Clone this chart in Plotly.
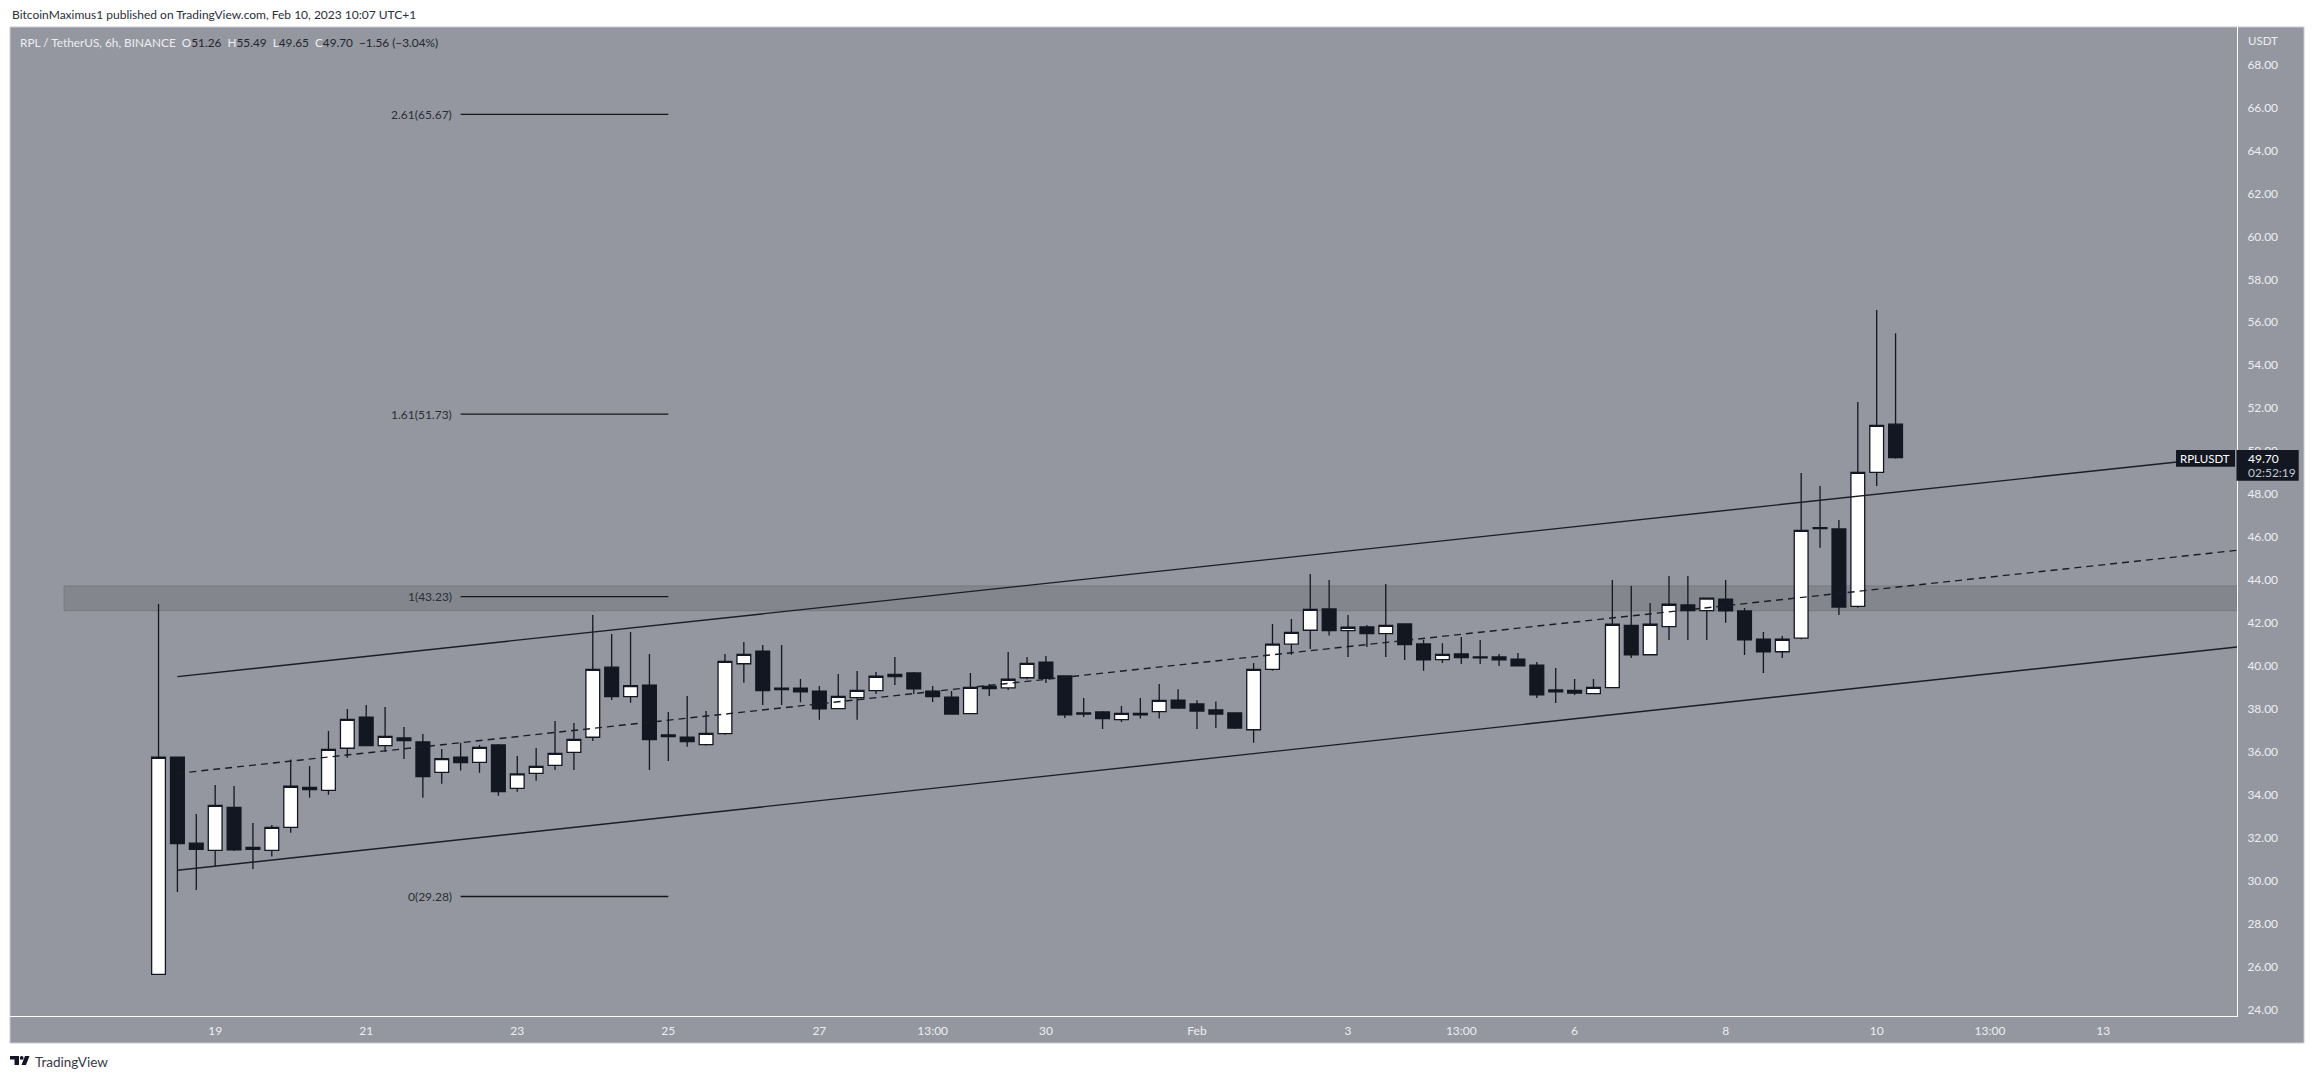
import pandas as pd
import plotly.graph_objects as go

# 6h RPL/USDT candles
bar_start = "2023-01-18 07:00"
opens = [25.66, 35.76, 31.76, 31.43, 33.43, 31.57, 31.43, 32.50, 34.36, 34.22,
         36.18, 37.63, 36.30, 36.66, 36.47, 35.06, 35.76, 35.52, 36.33, 34.31,
         35.01, 35.38, 35.99, 36.69, 39.95, 38.58, 39.12, 36.80, 36.69, 36.35,
         36.86, 40.11, 40.70, 38.98, 38.98, 38.84, 38.02, 38.53, 38.86, 39.51,
         39.68, 38.84, 38.56, 37.79, 38.95, 38.99, 39.46, 40.19, 39.54, 37.82,
         37.87, 37.51, 37.80, 37.88, 38.42, 38.24, 37.96, 37.82, 37.04, 39.85,
         41.02, 41.67, 42.66, 41.65, 41.82, 41.51, 41.96, 41.03, 40.30, 40.57,
         40.43, 40.43, 40.33, 40.05, 38.89, 38.87, 38.72, 39.00, 41.90, 40.53,
         41.84, 42.85, 42.58, 43.12, 42.57, 41.25, 40.67, 41.30, 46.44, 46.38,
         42.78, 49.02, 51.26]
highs = [42.89, 35.76, 33.12, 34.47, 34.42, 32.70, 32.61, 35.66, 35.35, 36.98,
         38.01, 38.19, 38.10, 37.17, 36.84, 36.14, 36.44, 36.33, 36.38, 35.82,
         36.19, 37.45, 37.35, 42.38, 41.50, 41.59, 40.57, 37.87, 38.61, 37.91,
         40.57, 41.12, 40.98, 40.98, 39.40, 39.08, 39.63, 39.77, 39.73, 40.43,
         39.73, 39.08, 38.84, 39.68, 39.17, 40.66, 40.43, 40.47, 39.54, 38.52,
         37.91, 38.15, 38.52, 39.17, 38.92, 38.41, 38.36, 37.82, 40.15, 41.96,
         42.19, 44.29, 44.01, 42.38, 41.91, 43.82, 41.96, 41.23, 41.07, 41.36,
         41.22, 40.57, 40.61, 40.19, 39.91, 39.40, 39.40, 44.01, 43.73, 42.94,
         44.19, 44.19, 43.16, 44.01, 42.71, 41.59, 41.40, 48.99, 48.38, 46.80,
         52.29, 56.57, 55.49]
lows = [25.66, 29.49, 29.58, 30.70, 31.40, 30.56, 31.14, 32.25, 33.87, 34.02,
        35.74, 36.30, 36.02, 35.68, 33.87, 34.53, 35.14, 35.04, 33.97, 34.16,
        34.67, 35.17, 35.17, 36.52, 38.42, 38.30, 35.17, 35.59, 36.25, 36.30,
        36.81, 39.23, 38.19, 38.19, 38.32, 37.51, 38.02, 37.51, 38.70, 39.12,
        38.70, 38.33, 37.77, 37.79, 38.61, 38.89, 39.39, 39.22, 37.59, 37.63,
        37.07, 37.40, 37.56, 37.56, 38.01, 37.07, 37.12, 37.07, 36.44, 39.79,
        40.53, 40.80, 41.42, 40.43, 40.89, 40.43, 40.29, 39.79, 40.15, 40.10,
        40.10, 40.01, 40.01, 38.52, 38.29, 38.66, 38.72, 39.00, 40.38, 40.53,
        41.22, 41.22, 41.22, 42.02, 40.52, 39.68, 40.38, 41.25, 45.51, 42.38,
        42.72, 48.38, 49.65]
closes = [35.76, 31.74, 31.47, 33.52, 31.45, 31.47, 32.50, 34.41, 34.25, 36.13,
          37.52, 36.30, 36.73, 36.53, 34.86, 35.70, 35.51, 36.22, 34.16, 34.99,
          35.34, 35.94, 36.59, 39.85, 38.58, 39.09, 36.58, 36.72, 36.49, 36.87,
          40.22, 40.55, 38.86, 38.91, 38.80, 38.01, 38.59, 38.87, 39.53, 39.62,
          38.94, 38.58, 37.77, 39.01, 39.06, 39.39, 40.13, 39.43, 37.73, 37.77,
          37.56, 37.80, 37.73, 38.41, 38.05, 37.91, 37.77, 37.12, 39.85, 41.02,
          41.57, 42.64, 41.65, 41.81, 41.51, 41.90, 41.00, 40.29, 40.55, 40.40,
          40.38, 40.29, 40.01, 38.66, 38.80, 38.75, 39.01, 41.95, 40.52, 41.95,
          42.88, 42.58, 43.16, 42.57, 41.22, 40.66, 41.25, 46.32, 46.40, 42.75,
          49.02, 51.20, 49.70]

x_tick_times = ["2023-01-19 01:00", "2023-01-21 01:00", "2023-01-23 01:00", "2023-01-25 01:00",
                "2023-01-27 01:00", "2023-01-28 13:00", "2023-01-30 01:00", "2023-02-01 01:00",
                "2023-02-03 01:00", "2023-02-04 13:00", "2023-02-06 01:00", "2023-02-08 01:00",
                "2023-02-10 01:00", "2023-02-11 13:00", "2023-02-13 01:00"]
x_tick_labels = ["19", "21", "23", "25", "27", "13:00", "30", "Feb", "3", "13:00", "6", "8", "10",
                 "13:00", "13"]
y_ticks = list(range(24, 70, 2))

# drawings on the chart
x_view = ["2023-01-16 07:48", "2023-02-14 19:30"]
upper_x = ["2023-01-18 13:00", "2023-02-14 00:30"]
upper_y = [39.51, 49.50]
middle_x = ["2023-01-18 13:00", "2023-02-14 19:30"]
middle_y = [35.01, 45.39]
lower_x = ["2023-01-18 13:00", "2023-02-14 19:30"]
lower_y = [30.50, 40.89]
fib_x = ["2023-01-22 07:00", "2023-01-25 01:00"]
fib_label_x = "2023-01-22 05:00"
fib_ratios = ["2.61", "1.61", "1", "0"]
fib_prices = [65.67, 51.73, 43.23, 29.28]
band_x0 = "2023-01-17 01:00"
band_prices = [42.58, 43.73]

BG = "#94979f"
INK = "#131722"
LABEL = "#eceef2"
FONT = "Lato"

# the page keeps the browser's 8px body margin, so page positions are shifted by it
PAGE = 8
W, H = 2314 - 2 * PAGE, 1079 - 2 * PAGE
L, R, T, B = 10 - PAGE, 2237 - PAGE, 27 - PAGE, 1016 - PAGE


def px_x(x):
    return (x - PAGE - L) / (R - L)


def px_y(y):
    return (B - (y - PAGE)) / (B - T)


def poly(points):
    return "M" + " L".join(f"{px_x(a):.5f},{px_y(b):.5f}" for a, b in points) + " Z"


dates = pd.date_range(bar_start, periods=len(opens), freq="6h")

fig = go.Figure()

for xs, ys, dash in [(upper_x, upper_y, "solid"), (middle_x, middle_y, "7px,5px"), (lower_x, lower_y, "solid")]:
    fig.add_trace(go.Scatter(x=xs, y=ys, mode="lines", line=dict(color="#1a1d26", width=1.4, dash=dash),
                             showlegend=False, hoverinfo="skip"))

for price in fib_prices:
    fig.add_trace(go.Scatter(x=fib_x, y=[price, price], mode="lines", line=dict(color="#15171d", width=1.3),
                             showlegend=False, hoverinfo="skip"))

fig.add_trace(go.Candlestick(
    x=dates, open=opens, high=highs, low=lows, close=closes,
    increasing=dict(line=dict(color=INK, width=1.3), fillcolor="#ffffff"),
    decreasing=dict(line=dict(color=INK, width=1.3), fillcolor=INK),
    whiskerwidth=0, showlegend=False,
))

shapes = [
    # panel behind plot and both axis strips
    dict(type="rect", xref="paper", yref="paper", layer="below",
         x0=0, x1=px_x(2304), y0=px_y(1043), y1=1,
         fillcolor=BG, line=dict(color="#c8cacf", width=1)),
    dict(type="rect", xref="x", yref="y", layer="below",
         x0=band_x0, x1=x_view[1], y0=band_prices[0], y1=band_prices[1],
         fillcolor="#84868e", line=dict(color="#777a82", width=1)),
    # price tags on the right
    dict(type="rect", xref="paper", yref="paper", fillcolor=INK, line=dict(width=0),
         x0=px_x(2176), x1=px_x(2235), y0=px_y(466.7), y1=px_y(450)),
    dict(type="rect", xref="paper", yref="paper", fillcolor=INK, line=dict(width=0),
         x0=px_x(2236.5), x1=px_x(2298.7), y0=px_y(480.7), y1=px_y(450)),
    # TradingView logo
    dict(type="path", xref="paper", yref="paper", fillcolor=INK, line=dict(width=0),
         path=poly([(10, 1056), (19, 1056), (19, 1065), (14.5, 1065), (14.5, 1059.5), (10, 1059.5)])),
    dict(type="circle", xref="paper", yref="paper", fillcolor=INK, line=dict(width=0),
         x0=px_x(19.8), x1=px_x(23.6), y0=px_y(1059.8), y1=px_y(1056)),
    dict(type="path", xref="paper", yref="paper", fillcolor=INK, line=dict(width=0),
         path=poly([(25, 1056), (29.5, 1056), (26, 1065), (21.5, 1065)])),
]

annotations = [
    dict(xref="paper", yref="paper", x=px_x(10), y=px_y(15), xanchor="left", yanchor="middle", showarrow=False,
         text="BitcoinMaximus1 published on TradingView.com, Feb 10, 2023 10:07 UTC+1",
         font=dict(family=FONT, size=12, color="#2a2e39")),
    dict(xref="paper", yref="paper", x=px_x(18), y=px_y(42), xanchor="left", yanchor="middle", showarrow=False,
         text=f"<span style='color:{LABEL}'>RPL / TetherUS, 6h, BINANCE\u00a0\u00a0O</span>51.26"
              f"\u00a0\u00a0<span style='color:{LABEL}'>H</span>55.49"
              f"\u00a0\u00a0<span style='color:{LABEL}'>L</span>49.65"
              f"\u00a0\u00a0<span style='color:{LABEL}'>C</span>49.70\u00a0\u00a0−1.56 (−3.04%)",
         font=dict(family=FONT, size=11.8, color="#23262e")),
    dict(xref="paper", yref="paper", x=px_x(2246), y=px_y(40.7), xanchor="left", yanchor="middle", showarrow=False,
         text="USDT", font=dict(family=FONT, size=11.5, color=LABEL)),
    dict(xref="paper", yref="paper", x=px_x(2205), y=px_y(458.3), xanchor="center", yanchor="middle",
         showarrow=False, text="RPLUSDT", font=dict(family=FONT, size=11.5, color="#ffffff")),
    dict(xref="paper", yref="paper", x=px_x(2246), y=px_y(458.7), xanchor="left", yanchor="middle",
         showarrow=False, text="49.70", font=dict(family=FONT, size=12, color="#ffffff")),
    dict(xref="paper", yref="paper", x=px_x(2246), y=px_y(472.7), xanchor="left", yanchor="middle",
         showarrow=False, text="02:52:19", font=dict(family=FONT, size=12, color="#c5c7cc")),
    # wordmark
    dict(xref="paper", yref="paper", x=px_x(33), y=px_y(1061.5), xanchor="left", yanchor="middle", showarrow=False,
         text="TradingView", font=dict(family=FONT, size=13.5, color="#363a45")),
]

for ratio, price in zip(fib_ratios, fib_prices):
    annotations.append(dict(x=fib_label_x, y=price, xref="x", yref="y", xanchor="right", yanchor="middle",
                            showarrow=False, text=f"{ratio}({price:.2f})",
                            font=dict(family=FONT, size=12, color="#2b2e36")))

fig.update_layout(
    width=W, height=H,
    autosize=False,
    margin=dict(l=L, r=W - R, t=T, b=H - B, pad=0),
    paper_bgcolor="#ffffff",
    plot_bgcolor=BG,
    boxgap=0.27,
    boxgroupgap=0,
    showlegend=False,
    shapes=shapes,
    annotations=annotations,
    xaxis=dict(type="date", range=x_view, rangeslider=dict(visible=False), tickvals=x_tick_times,
               ticktext=x_tick_labels, tickangle=0, showgrid=False, zeroline=False, showline=True,
               linecolor="#ffffff", linewidth=1, ticks="outside", ticklen=4, tickcolor=BG,
               tickfont=dict(family=FONT, size=12, color=LABEL)),
    yaxis=dict(side="right", range=[23.72, 69.74], tickvals=y_ticks, tickformat=".2f",
               showgrid=False, zeroline=False, showline=True, linecolor="#ffffff", linewidth=1,
               ticks="outside", ticklen=7, tickcolor=BG,
               tickfont=dict(family=FONT, size=12, color=LABEL)),
)

fig.write_html("out.html")
